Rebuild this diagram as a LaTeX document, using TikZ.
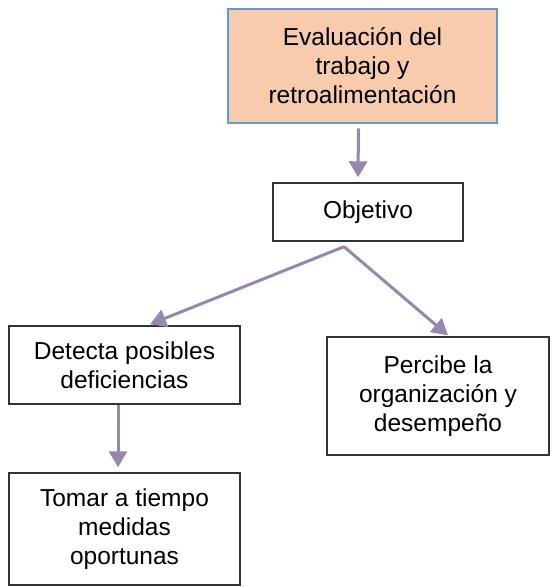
\documentclass[tikz,border=0pt]{standalone}
\usepackage{fontspec}
\setmainfont{Liberation Sans}
\usetikzlibrary{arrows.meta}
\definecolor{durazno}{RGB}{248,203,173}
\definecolor{azulborde}{RGB}{100,152,212}
\definecolor{lila}{RGB}{150,135,175}

\begin{document}
\begin{tikzpicture}[x=1pt,y=1pt]
        \tikzstyle{every node}=[font=\fontsize{24.5}{29}\selectfont, align=center, inner sep=0pt]
        \tikzstyle{caja}=[draw=black!80, line width=1.4pt, rectangle]
        \tikzstyle{cajainicio}=[draw=azulborde, fill=durazno, line width=2.6pt, rectangle]
        \tikzstyle{flecha}=[draw=lila, line width=3pt, -{Triangle[width=18pt,length=16pt]}]
        \useasboundingbox (0,0) rectangle (552,-587);

        \node[cajainicio, minimum width=269pt, minimum height=114pt] (eval) at (362.5,-66)
            {Evaluación del\\trabajo y\\retroalimentación};
        \node[caja, minimum width=190pt, minimum height=58pt] (obj) at (368,-212) {Objetivo};
        \node[caja, minimum width=231pt, minimum height=78pt] (det) at (124.5,-365)
            {Detecta posibles\\deficiencias};
        \node[caja, minimum width=222pt, minimum height=118pt] (per) at (438,-396)
            {Percibe la\\organización y\\desempeño};
        \node[caja, minimum width=231pt, minimum height=112pt] (tom) at (124.5,-529)
            {Tomar a tiempo\\medidas\\oportunas};

        \draw[flecha] ([xshift=-4pt,yshift=-4pt]eval.south) -- ([xshift=-10pt,yshift=5pt]obj.north);
        \draw[flecha] ([xshift=-24pt,yshift=-5pt]obj.south) -- ([xshift=25.5pt,yshift=1pt]det.north);
        \draw[flecha] ([xshift=-24pt,yshift=-5pt]obj.south) -- ([xshift=10pt,yshift=1pt]per.north);
        \draw[flecha] ([xshift=-6.5pt]det.south) -- ([xshift=-6.5pt,yshift=5pt]tom.north);
\end{tikzpicture}
\end{document}
